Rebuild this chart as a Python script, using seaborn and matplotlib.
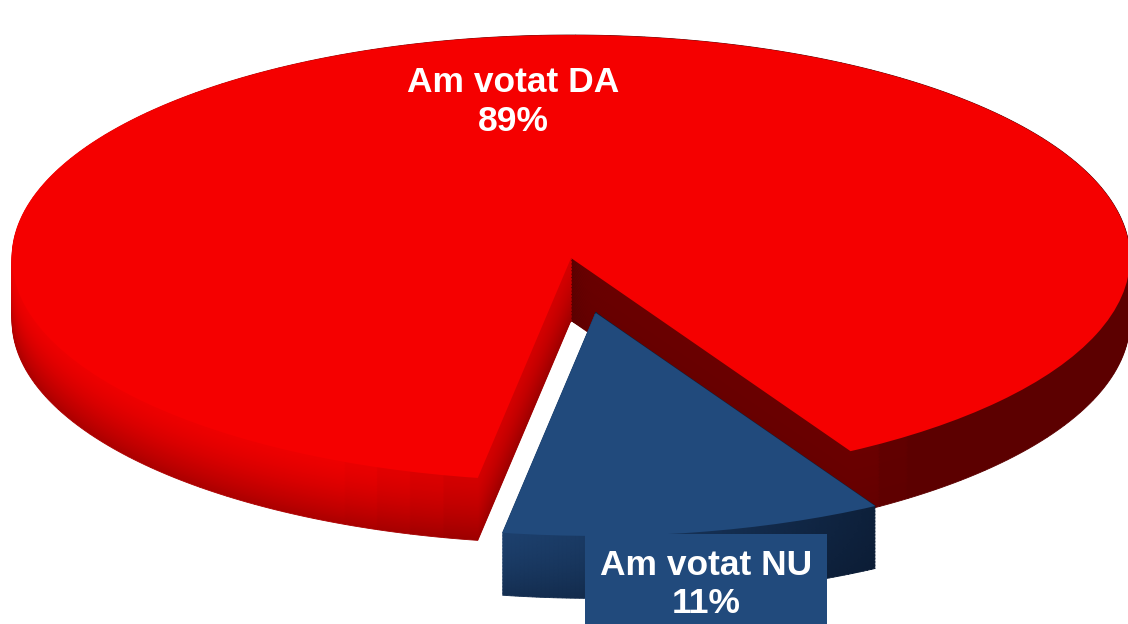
import numpy as np
import matplotlib.pyplot as plt
import seaborn as sns

labels = ["Am votat DA", "Am votat NU"]
shares = [89, 11]
explode = [0, 0.25]

top_colors = ["#f50000", "#214a7c"]
bright = [(0.93, 0.0, 0.0), (0.13, 0.29, 0.49)]
dark = [(0.36, 0.0, 0.0), (0.04, 0.10, 0.19)]

sns.set_theme(style="white")
plt.rcParams['font.family'] = ['Liberation Sans', 'DejaVu Sans']

fig = plt.figure(figsize=(11.28, 6.24), dpi=100)
ax = fig.add_axes([0, 0, 1, 1])

start = 300
depth = 0.28
n_layers = 45
n_seg = 90   # sub-wedges per slice, only used for shading the rim

# angle range of each slice, from the shares
total = sum(shares)
edges = start + np.concatenate([[0], np.cumsum(shares)]) / total * 360


def shade(theta, t, k):
    # light comes from the left; t = 0 at the top of the rim, 1 at the bottom
    s = 0.5 + 0.5 * np.cos(np.radians(theta - 200))
    s = np.clip((s - 0.35) / 0.5, 0, 1) * (1 - 0.45 * t ** 1.5)
    return tuple(dark[k][j] + (bright[k][j] - dark[k][j]) * s for j in range(3))


for k in range(len(shares)):
    mid = np.radians((edges[k] + edges[k + 1]) / 2)
    ex, ey = explode[k] * np.cos(mid), explode[k] * np.sin(mid)
    seg_vals = [shares[k] / n_seg] * n_seg
    seg_theta = edges[k] + (np.arange(n_seg) + 0.5) / n_seg * (edges[k + 1] - edges[k])
    rest = total - shares[k]
    for d in np.linspace(depth, 0, n_layers):
        t = d / depth
        cols = [shade(th, t, k) for th in seg_theta]
        wedges, _ = ax.pie(seg_vals + [rest], startangle=edges[k], colors=cols + ['none'],
                           center=(ex, ey - d), wedgeprops=dict(linewidth=0.6))
        # hide seams between sub-wedges
        for w in wedges:
            w.set_edgecolor(w.get_facecolor())

# top face
ax.pie(shares, explode=explode, startangle=start, colors=top_colors,
       wedgeprops=dict(linewidth=0))

ax.text(-0.104, 0.70, f"{labels[0]}\n{shares[0]}%", color='white',
        fontsize=25.5, fontweight='bold', ha='center', va='center')
ax.text(0.241, -1.465, f"{labels[1]}\n{shares[1]}%", color='white',
        fontsize=25.5, fontweight='bold', ha='center', va='center',
        bbox=dict(boxstyle='square,pad=0.42', fc=top_colors[1], ec='none'))

ax.set_xlim(-1.0215, 0.9964)
ax.set_ylim(-1.641, 1.157)
ax.set_aspect('auto')
ax.axis('off')

fig.savefig('out.png', dpi=100)
